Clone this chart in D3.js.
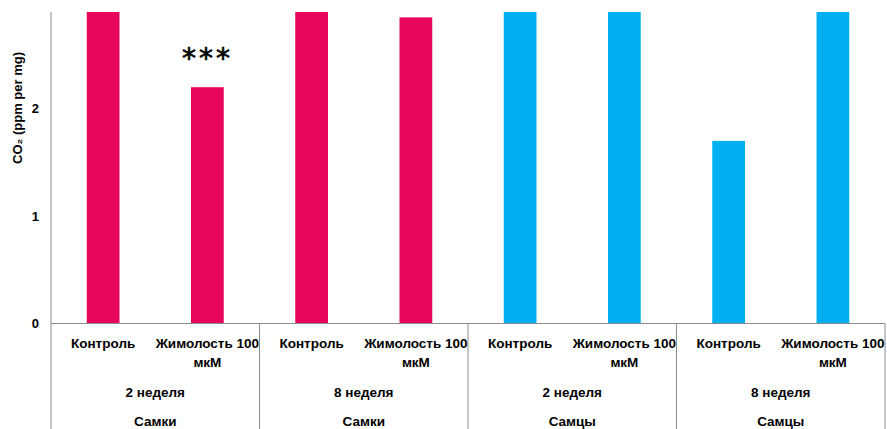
<!DOCTYPE html>
<html>
<head>
<meta charset="utf-8">
<script src="https://cdn.jsdelivr.net/npm/d3@7"></script>
<style>
  html, body { margin: 0; padding: 0; background: #fff; }
  svg { display: block; }
  text { font-family: "Liberation Sans", Arial, sans-serif; fill: #000; }
</style>
</head>
<body>
<svg id="chart" width="887" height="429"></svg>
<script>
// Category hierarchy (innermost first)
const treatments = ["Контроль", "Жимолость 100 мкМ", "Контроль", "Жимолость 100 мкМ",
                    "Контроль", "Жимолость 100 мкМ", "Контроль", "Жимолость 100 мкМ"];
const weeks = ["2 неделя", "8 неделя", "2 неделя", "8 неделя"];
const sexes = ["Самки", "Самки", "Самцы", "Самцы"];

// CO2 values (ppm per mg); bars above the axis maximum are cut at the top
const values = [3.0, 2.2, 3.0, 2.85, 3.0, 3.0, 1.7, 3.0];
const barColors = ["#E8065B", "#E8065B", "#E8065B", "#E8065B",
                   "#00B0F0", "#00B0F0", "#00B0F0", "#00B0F0"];
const significance = ["", "***", "", "", "", "", "", ""];

const yTicks = [0, 1, 2];
const yMax = 2.9;
const yTitle = "CO₂ (ppm per mg)";

const svg = d3.select("#chart");
const plotLeft = 51, plotRight = 885, plotTop = 12, base = 323.5, bottomEdge = 429;
const axisColor = "#8c8c8c";

const x = d3.scaleBand()
  .domain(d3.range(values.length))
  .range([plotLeft, plotRight])
  .paddingInner(0.686)
  .paddingOuter(0.343);

const y = d3.scaleLinear().domain([0, yMax]).range([base, plotTop]);

svg.append("clipPath").attr("id", "plotClip")
  .append("rect").attr("x", plotLeft).attr("y", plotTop)
  .attr("width", plotRight - plotLeft).attr("height", base - plotTop);

// Bars
svg.append("g").attr("clip-path", "url(#plotClip)")
  .selectAll("rect").data(values).join("rect")
  .attr("x", (d, i) => x(i))
  .attr("y", d => y(d))
  .attr("width", x.bandwidth())
  .attr("height", d => base - y(d))
  .attr("fill", (d, i) => barColors[i]);

// Significance marks
svg.append("g").selectAll("text").data(significance).join("text")
  .attr("x", (d, i) => x(i) + x.bandwidth() / 2)
  .attr("y", (d, i) => y(values[i]) - 19)
  .attr("text-anchor", "middle")
  .style("font-family", "'DejaVu Sans', sans-serif")
  .style("font-size", "28px")
  .style("letter-spacing", "3px")
  .style("stroke", "#000")
  .style("stroke-width", "0.7px")
  .text(d => d);

// Y axis (labels only, no tick marks)
const yAxis = d3.axisLeft(y).tickValues(yTicks).tickSize(0).tickPadding(12)
  .tickFormat(d3.format("d"));
const yg = svg.append("g").attr("transform", `translate(${plotLeft},0)`).call(yAxis);
yg.select(".domain").remove();
yg.selectAll("text")
  .style("font-family", "'Liberation Sans', Arial, sans-serif")
  .style("font-size", "13px").style("font-weight", "bold").attr("fill", "#000");

// Axis lines
svg.append("line").attr("x1", plotLeft).attr("x2", plotLeft).attr("y1", plotTop).attr("y2", bottomEdge)
  .attr("stroke", axisColor).attr("stroke-width", 1);
svg.append("line").attr("x1", plotLeft).attr("x2", plotRight).attr("y1", base).attr("y2", base)
  .attr("stroke", axisColor).attr("stroke-width", 1);

// Group separators below the baseline
const groupWidth = (plotRight - plotLeft) / weeks.length;
d3.range(1, weeks.length + 1).forEach(k => {
  const gx = plotLeft + k * groupWidth;
  svg.append("line").attr("x1", gx).attr("x2", gx).attr("y1", base).attr("y2", bottomEdge)
    .attr("stroke", axisColor).attr("stroke-width", 1);
});

// Y axis title
svg.append("text")
  .attr("transform", "translate(22,108) rotate(-90)")
  .attr("text-anchor", "middle")
  .style("font-size", "13px").style("font-weight", "bold")
  .text(yTitle);

// Category labels
const catG = svg.append("g").style("font-size", "13.5px").style("font-weight", "bold");
treatments.forEach((t, i) => {
  const cx = x(i) + x.bandwidth() / 2;
  const lines = t === "Жимолость 100 мкМ" ? ["Жимолость 100", "мкМ"] : [t];
  lines.forEach((ln, j) => {
    catG.append("text").attr("x", cx).attr("y", 348 + j * 19)
      .attr("text-anchor", "middle").text(ln);
  });
});
weeks.forEach((w, k) => {
  catG.append("text").attr("x", plotLeft + (k + 0.5) * groupWidth).attr("y", 397)
    .attr("text-anchor", "middle").text(w);
});
sexes.forEach((s, k) => {
  catG.append("text").attr("x", plotLeft + (k + 0.5) * groupWidth).attr("y", 426)
    .attr("text-anchor", "middle").text(s);
});
</script>
</body>
</html>
